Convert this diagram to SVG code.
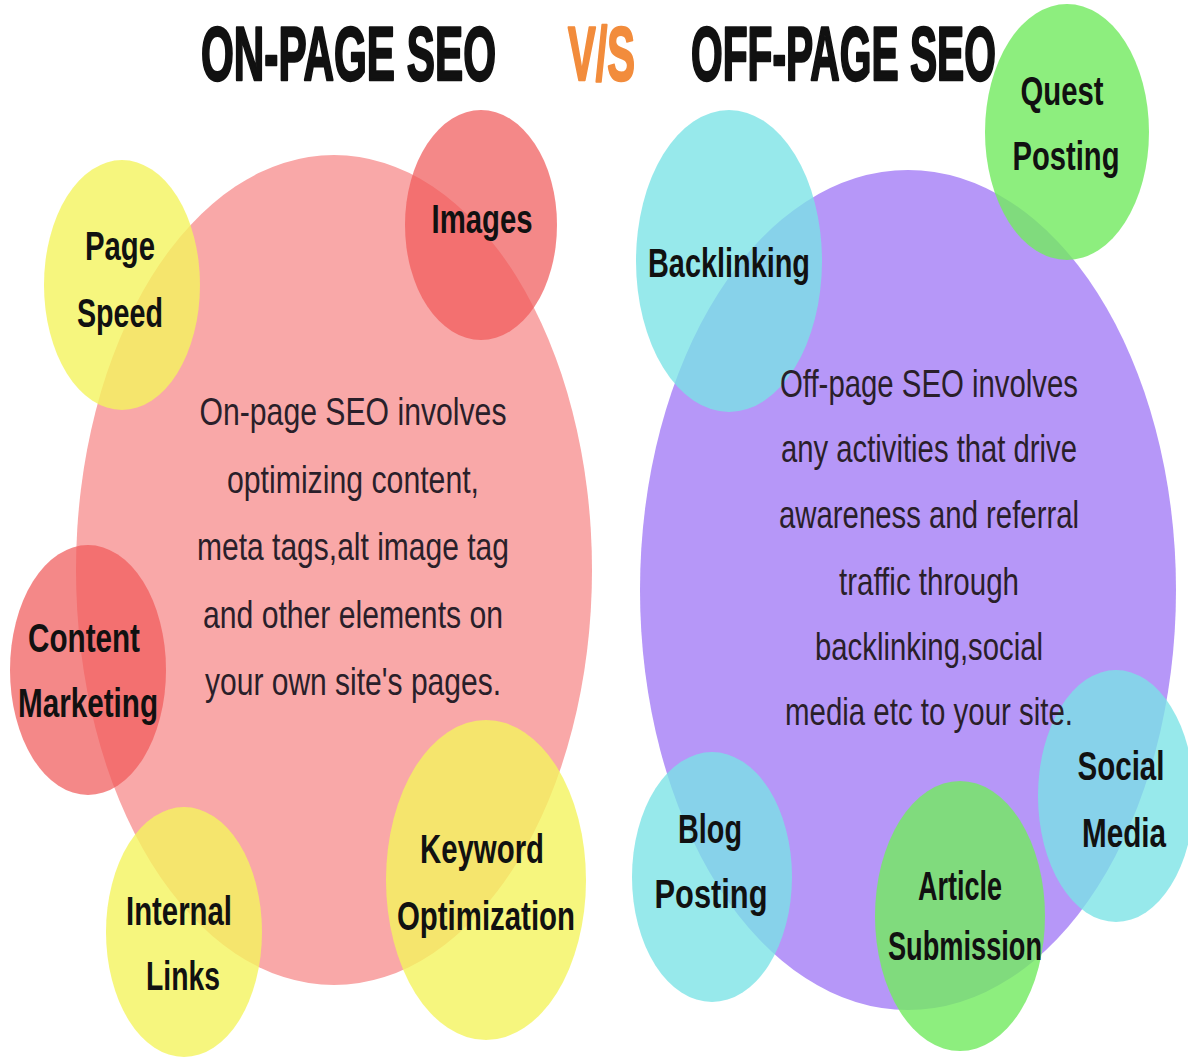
<svg xmlns="http://www.w3.org/2000/svg" width="1188" height="1059" viewBox="0 0 1188 1059">
<style>
.bg{fill:#ffffff}
.pink{fill:#f9a8a8}
.purple{fill:#b697f8}
.yellow{fill:#f4f45e;opacity:0.8}
.red{fill:#f05a5a;opacity:0.72}
.cyan{fill:#7ae3e6;opacity:0.78}
.green{fill:#74ea62;opacity:0.82}
.head{font-family:"Liberation Sans",Arial,sans-serif;font-weight:bold;font-size:76px;fill:#111;stroke:#111;stroke-width:2.5;stroke-linejoin:round}
.vs{fill:#f28c3c;stroke:#f28c3c}
.lbl{font-family:"Liberation Sans",Arial,sans-serif;font-weight:bold;font-size:40px;fill:#111;text-anchor:middle}
.body{font-family:"Liberation Sans",Arial,sans-serif;font-size:39px;fill:#2a1f2a;text-anchor:middle}
</style>
<rect class="bg" x="0" y="0" width="1188" height="1059"/>
<g id="title">
<text class="head" x="201" y="80" textLength="295" lengthAdjust="spacingAndGlyphs">ON-PAGE SEO</text>
<text class="head vs" x="568" y="80" textLength="67" lengthAdjust="spacingAndGlyphs">V/S</text>
<text class="head" x="691" y="80" textLength="305" lengthAdjust="spacingAndGlyphs">OFF-PAGE SEO</text>
</g>
<g id="onpage">
<ellipse class="pink" cx="334" cy="570" rx="258" ry="415"/>
</g>
<g id="offpage">
<ellipse class="purple" cx="908" cy="590" rx="268" ry="420"/>
</g>
<g id="page-speed">
<ellipse class="yellow" cx="122" cy="285" rx="78" ry="125"/>
<text class="lbl" x="120" y="260" textLength="70" lengthAdjust="spacingAndGlyphs">Page</text>
<text class="lbl" x="120" y="327" textLength="86" lengthAdjust="spacingAndGlyphs">Speed</text>
</g>
<g id="images">
<ellipse class="red" cx="481" cy="225" rx="76" ry="115"/>
<text class="lbl" x="482" y="233" textLength="101" lengthAdjust="spacingAndGlyphs">Images</text>
</g>
<g id="content-marketing">
<ellipse class="red" cx="88" cy="670" rx="78" ry="125"/>
<text class="lbl" x="84" y="652" textLength="112" lengthAdjust="spacingAndGlyphs">Content</text>
<text class="lbl" x="88" y="717" textLength="140" lengthAdjust="spacingAndGlyphs">Marketing</text>
</g>
<g id="internal-links">
<ellipse class="yellow" cx="184" cy="932" rx="78" ry="125"/>
<text class="lbl" x="179" y="925" textLength="106" lengthAdjust="spacingAndGlyphs">Internal</text>
<text class="lbl" x="183" y="990" textLength="74" lengthAdjust="spacingAndGlyphs">Links</text>
</g>
<g id="keyword-optimization">
<ellipse class="yellow" cx="486" cy="880" rx="100" ry="160"/>
<text class="lbl" x="482" y="863" textLength="124" lengthAdjust="spacingAndGlyphs">Keyword</text>
<text class="lbl" x="486" y="930" textLength="178" lengthAdjust="spacingAndGlyphs">Optimization</text>
</g>
<g id="backlinking">
<ellipse class="cyan" cx="729" cy="261" rx="93" ry="151"/>
<text class="lbl" x="729" y="277" textLength="162" lengthAdjust="spacingAndGlyphs">Backlinking</text>
</g>
<g id="quest-posting">
<ellipse class="green" cx="1067" cy="132" rx="82" ry="128"/>
<text class="lbl" x="1062" y="105" textLength="83" lengthAdjust="spacingAndGlyphs">Quest</text>
<text class="lbl" x="1066" y="170" textLength="107" lengthAdjust="spacingAndGlyphs">Posting</text>
</g>
<g id="blog-posting">
<ellipse class="cyan" cx="712" cy="877" rx="80" ry="125"/>
<text class="lbl" x="710" y="843" textLength="64" lengthAdjust="spacingAndGlyphs">Blog</text>
<text class="lbl" x="711" y="908" textLength="113" lengthAdjust="spacingAndGlyphs">Posting</text>
</g>
<g id="article-submission">
<ellipse class="green" cx="960" cy="916" rx="85" ry="135"/>
<text class="lbl" x="960" y="900" textLength="84" lengthAdjust="spacingAndGlyphs">Article</text>
<text class="lbl" x="965" y="960" textLength="154" lengthAdjust="spacingAndGlyphs">Submission</text>
</g>
<g id="social-media">
<ellipse class="cyan" cx="1116" cy="796" rx="78" ry="126"/>
<text class="lbl" x="1121" y="780" textLength="87" lengthAdjust="spacingAndGlyphs">Social</text>
<text class="lbl" x="1124" y="847" textLength="84" lengthAdjust="spacingAndGlyphs">Media</text>
</g>
<g id="onpage-text">
<text class="body" x="353" y="425" textLength="307" lengthAdjust="spacingAndGlyphs">On-page SEO involves</text>
<text class="body" x="353" y="493" textLength="252" lengthAdjust="spacingAndGlyphs">optimizing content,</text>
<text class="body" x="353" y="560" textLength="312" lengthAdjust="spacingAndGlyphs">meta tags,alt image tag</text>
<text class="body" x="353" y="628" textLength="300" lengthAdjust="spacingAndGlyphs">and other elements on</text>
<text class="body" x="353" y="695" textLength="296" lengthAdjust="spacingAndGlyphs">your own site's pages.</text>
</g>
<g id="offpage-text">
<text class="body" x="929" y="397" textLength="298" lengthAdjust="spacingAndGlyphs">Off-page SEO involves</text>
<text class="body" x="929" y="462" textLength="296" lengthAdjust="spacingAndGlyphs">any activities that drive</text>
<text class="body" x="929" y="528" textLength="300" lengthAdjust="spacingAndGlyphs">awareness and referral</text>
<text class="body" x="929" y="595" textLength="180" lengthAdjust="spacingAndGlyphs">traffic through</text>
<text class="body" x="929" y="660" textLength="228" lengthAdjust="spacingAndGlyphs">backlinking,social</text>
<text class="body" x="929" y="725" textLength="288" lengthAdjust="spacingAndGlyphs">media etc to your site.</text>
</g>
<g id="connectors"></g>
</svg>
